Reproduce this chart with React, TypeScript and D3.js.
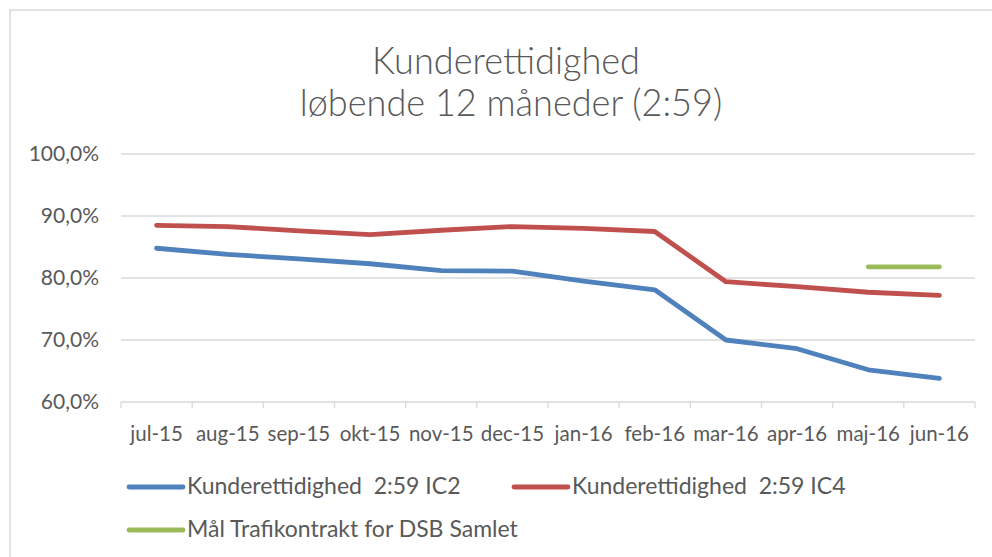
import React from 'react';
import * as d3 from 'd3';

// categories (months) and series values in percent
const months = ['jul-15', 'aug-15', 'sep-15', 'okt-15', 'nov-15', 'dec-15', 'jan-16', 'feb-16', 'mar-16', 'apr-16', 'maj-16', 'jun-16'];
const ic2 = [84.8, 83.8, 83.1, 82.3, 81.2, 81.1, 79.5, 78.1, 70.0, 68.6, 65.2, 63.8];
const ic4 = [88.5, 88.3, 87.6, 87.0, 87.7, 88.3, 88.0, 87.5, 79.4, 78.6, 77.7, 77.2];
const goal: (number | null)[] = [null, null, null, null, null, null, null, null, null, null, 81.8, 81.8];
const yTicks = [60, 70, 80, 90, 100];

const series = [
  { name: 'Kunderettidighed  2:59 IC2', values: ic2 as (number | null)[], color: '#4F81BD' },
  { name: 'Kunderettidighed  2:59 IC4', values: ic4 as (number | null)[], color: '#C0504D' },
  { name: 'Mål Trafikontrakt for DSB Samlet', values: goal, color: '#9BBB59' },
];

const W = 992;
const H = 557;
const margin = { top: 154, right: 17, bottom: 155, left: 121 };
const FONT = "Lato, 'Open Sans', sans-serif";
const textColor = '#595959';

export default function App() {
  const innerW = W - margin.left - margin.right;
  const innerH = H - margin.top - margin.bottom;

  const x = d3.scaleBand<string>().domain(months).range([0, innerW]).padding(0);
  const y = d3.scaleLinear().domain([60, 100]).range([innerH, 0]);

  const line = d3
    .line<number | null>()
    .defined((d) => d != null)
    .x((_, i) => (x(months[i]) as number) + x.bandwidth() / 2)
    .y((d) => y(d as number));

  const fmt = (v: number) => v.toFixed(1).replace('.', ',') + '%';
  const bounds = months.map((m) => x(m) as number).concat([innerW]);

  return (
    <svg width={W} height={H} style={{ position: 'absolute', left: 0, top: 0, background: '#fff' }} fontFamily={FONT}>
      <rect x={10} y={10} width={1000} height={600} fill="#fff" stroke="#D9D9D9" strokeWidth={1.5} />

      {/* title, slightly squeezed like the original's narrow font */}
      <text transform="translate(506,74) scale(0.95,1)" textAnchor="middle" fontSize={38} fontWeight={300} fill={textColor}>Kunderettidighed</text>
      <text transform="translate(511,116) scale(0.95,1)" textAnchor="middle" fontSize={38} fontWeight={300} fill={textColor}>løbende 12 måneder (2:59)</text>

      <g transform={`translate(${margin.left},${margin.top})`}>
        {yTicks.map((t) => (
          <g key={t}>
            <line x1={0} x2={innerW} y1={y(t)} y2={y(t)} stroke="#D9D9D9" strokeWidth={1.3} />
            <text x={-22} y={y(t)} dy="0.35em" textAnchor="end" fontSize={21} fill={textColor}>{fmt(t)}</text>
          </g>
        ))}
        {bounds.map((b, i) => (
          <line key={i} x1={b} x2={b} y1={innerH} y2={innerH + 6} stroke="#D9D9D9" strokeWidth={1.3} />
        ))}
        {months.map((m) => (
          <text key={m} x={(x(m) as number) + x.bandwidth() / 2} y={441 - margin.top} textAnchor="middle" fontSize={20.5} fill={textColor}>{m}</text>
        ))}
        {series.map((s) => (
          <path key={s.name} d={line(s.values) || ''} fill="none" stroke={s.color} strokeWidth={4.8} strokeLinecap="round" strokeLinejoin="round" />
        ))}
      </g>

      {/* legend */}
      {[
        { s: series[0], lx: 129, ly: 487 },
        { s: series[1], lx: 514, ly: 487 },
        { s: series[2], lx: 129, ly: 530 },
      ].map(({ s, lx, ly }) => (
        <g key={s.name}>
          <line x1={lx} x2={lx + 54} y1={ly} y2={ly} stroke={s.color} strokeWidth={4.8} strokeLinecap="round" />
          <text x={lx + 58} y={ly + 7} fontSize={23} fill={textColor} style={{ whiteSpace: 'pre' }}>{s.name}</text>
        </g>
      ))}
    </svg>
  );
}
